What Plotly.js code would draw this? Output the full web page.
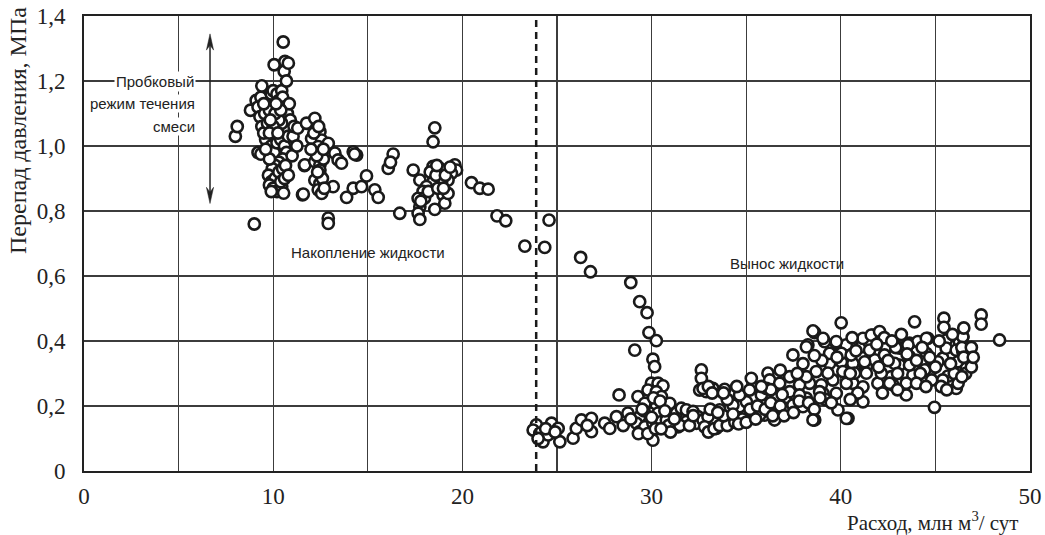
<!DOCTYPE html>
<html>
<head>
<meta charset="utf-8">
<script src="https://cdn.plot.ly/plotly-3.0.1.min.js"></script>
<style>html,body{margin:0;padding:0;background:#fff;}</style>
</head>
<body>
<div id="chart" style="width:1045px;height:535px;"></div>
<script>
// Slug-flow / liquid accumulation region (flow rate, mln m3/day ; pressure drop, MPa)
const accumQ = [8.0,8.1,9.0,8.8,9.1,9.2,9.35,9.4,9.3,9.4,9.55,9.2,9.35,9.6,9.5,9.7,9.65,9.8,9.9,10.0,10.05,10.2,10.3,10.45,10.53,10.62,10.58,10.8,10.7,10.5,10.6,10.75,10.85,10.9,10.6,10.45,10.3,10.1,10.0,9.8,9.9,10.05,10.2,10.4,10.6,10.8,11.05,10.7,10.5,10.3,10.1,9.95,9.8,9.75,9.9,10.1,10.3,10.5,10.65,9.8,10.0,10.2,10.45,10.55,9.9,10.4,10.6,10.8,11.0,11.25,11.55,11.65,11.1,9.6,10.25,10.4,10.15,9.85,11.3,9.5,
  11.76,12.20,12.47,12.03,12.56,12.91,12.38,12.56,13.26,13.43,13.61,14.23,14.41,11.67,12.20,12.47,12.47,12.47,12.20,12.47,12.38,12.56,13.17,11.59,13.88,14.23,14.67,14.93,15.37,15.55,12.91,12.91,12.65,12.3,12.6,12.35,12.7,12.15,12.4,14.3,16.34,16.08,16.2,16.69,12.0,12.65,
  18.54,18.45,17.40,17.75,18.45,18.81,19.60,19.69,19.42,19.24,18.90,18.45,18.10,17.92,17.66,17.75,17.66,17.75,18.98,19.07,18.54,19.24,18.3,18.6,19.1,19.35,18.0,18.2,18.7,17.8,19.0,18.65,
  20.48,20.92,21.36,21.83,22.29,23.30,24.35,24.58];
const accumDp = [1.03,1.06,0.76,1.11,1.14,1.12,1.15,1.185,1.09,1.06,1.10,0.98,0.975,1.02,1.04,1.07,1.13,1.11,1.16,1.17,1.25,1.16,1.14,1.17,1.32,1.26,1.23,1.255,1.20,1.15,1.12,1.10,1.13,1.08,1.05,1.07,1.08,1.10,1.06,1.04,1.00,0.98,1.01,1.02,1.00,1.03,1.03,0.98,0.96,0.95,0.94,0.93,0.96,0.91,0.89,0.90,0.92,0.93,0.94,0.88,0.87,0.86,0.875,0.855,0.86,0.89,0.90,0.91,0.97,1.00,0.85,0.94,1.06,0.99,1.04,1.11,1.13,1.08,1.055,1.13,
  1.07,1.085,1.044,1.023,1.018,1.008,0.998,0.982,0.978,0.957,0.947,0.982,0.972,0.942,0.952,0.942,0.926,0.911,0.895,0.885,0.865,0.854,0.875,0.852,0.842,0.870,0.875,0.908,0.865,0.842,0.778,0.762,0.96,0.97,0.90,0.92,0.87,1.04,1.06,0.975,0.975,0.931,0.95,0.793,0.99,0.99,
  1.056,1.013,0.926,0.895,0.937,0.931,0.942,0.926,0.916,0.895,0.890,0.890,0.875,0.860,0.839,0.813,0.793,0.774,0.849,0.824,0.805,0.854,0.92,0.91,0.91,0.935,0.84,0.86,0.87,0.83,0.87,0.94,
  0.887,0.870,0.867,0.785,0.770,0.692,0.688,0.772];

// Transition points
const transQ  = [26.25,26.77,28.90,29.37,29.76,29.86,30.25,29.11,30.07,30.16,28.28];
const transDp = [0.657,0.613,0.580,0.521,0.487,0.426,0.401,0.372,0.344,0.321,0.234];

// Liquid removal region
const removalQ = [23.91,23.74,24.09,24.26,24.71,25.06,24.53,25.15,25.85,26.02,26.29,26.82,26.82,26.60,24.40,24.00,24.90,27.52,27.79,28.14,28.75,29.28,28.50,
  29.99,30.34,30.60,29.81,30.25,30.52,30.96,29.64,30.25,29.90,30.34,29.37,29.20,29.37,29.64,30.07,30.52,30.78,31.31,31.57,31.84,32.19,32.45,31.40,31.84,32.37,32.72,30.07,32.63,32.63,32.54,32.89,29.30,29.80,28.90,29.60,30.10,30.45,30.70,30.00,29.50,30.20,30.90,
  32.72,33.24,33.86,35.27,36.15,36.24,36.77,37.30,37.47,38.26,38.62,39.14,39.76,40.29,39.41,40.03,40.64,41.26,41.35,38.35,37.82,38.97,39.58,40.64,41.17,39.06,39.76,41.17,38.62,39.85,40.38,38.00,37.12,36.50,35.97,35.36,34.65,34.13,33.60,32.98,32.80,33.42,34.13,34.83,35.71,36.50,37.03,37.47,38.18,36.59,35.80,35.01,34.30,34.65,35.18,36.07,37.30,37.82,38.88,39.32,40.11,40.73,38.70,38.18,40.29,39.41,40.03,40.55,
  33.00,33.30,33.60,34.00,34.40,34.80,33.80,34.30,31.00,31.50,30.50,32.00,32.20,31.20,33.10,33.50,34.60,35.00,35.50,35.20,35.60,36.00,36.30,36.80,36.40,37.00,37.50,37.80,38.30,38.60,39.20,39.50,38.90,33.00,33.20,
  43.90,45.45,45.45,47.42,47.42,48.39,41.70,42.05,43.63,44.07,44.60,45.57,46.27,46.45,42.31,43.11,42.67,43.81,44.78,45.66,46.19,46.63,46.10,43.46,44.95,41.35,41.96,42.75,43.46,41.79,42.40,43.11,44.52,45.39,45.13,45.57,46.10,46.45,41.35,41.08,41.52,43.63,44.25,44.43,45.39,
  38.18,39.06,39.76,41.17,41.61,42.05,41.52,42.31,42.84,43.55,44.52,46.45,41.26,42.58,42.14,43.63,40.02,38.53,38.53,40.29,
  46.60,46.90,46.40,46.50,46.00,45.80,45.00,44.70,44.00,43.50,44.80,45.30,46.20,42.00,42.50,43.00,44.20,44.00,42.90,42.30,40.80,40.50,39.80,39.00,38.60,38.00,37.70,36.80,36.30,35.80,34.50,34.00,33.80,36.90,40.90,40.50,42.20,43.00,44.50,45.60,46.40,46.90,47.00,45.20,45.90,46.50,44.30,41.90,42.70,43.20,40.60];
const removalDp = [0.142,0.126,0.116,0.090,0.147,0.131,0.111,0.090,0.101,0.131,0.157,0.162,0.121,0.140,0.130,0.100,0.120,0.147,0.131,0.167,0.178,0.229,0.140,
  0.270,0.270,0.262,0.249,0.244,0.229,0.208,0.208,0.198,0.178,0.178,0.167,0.147,0.121,0.136,0.147,0.152,0.157,0.178,0.193,0.188,0.183,0.167,0.136,0.152,0.147,0.157,0.095,0.311,0.285,0.249,0.244,0.115,0.115,0.160,0.185,0.225,0.215,0.185,0.165,0.190,0.130,0.140,
  0.254,0.254,0.251,0.285,0.301,0.280,0.270,0.290,0.357,0.388,0.426,0.398,0.393,0.388,0.331,0.336,0.331,0.326,0.393,0.270,0.265,0.265,0.280,0.270,0.259,0.239,0.239,0.213,0.157,0.188,0.162,0.198,0.213,0.188,0.172,0.178,0.198,0.193,0.188,0.167,0.136,0.131,0.147,0.157,0.172,0.157,0.193,0.203,0.224,0.229,0.234,0.213,0.203,0.234,0.249,0.254,0.244,0.234,0.244,0.301,0.306,0.301,0.306,0.290,0.270,0.362,0.362,0.357,
  0.120,0.130,0.140,0.140,0.150,0.160,0.170,0.175,0.120,0.140,0.130,0.140,0.170,0.160,0.190,0.180,0.145,0.150,0.160,0.190,0.200,0.190,0.210,0.200,0.170,0.170,0.180,0.215,0.210,0.190,0.220,0.210,0.225,0.260,0.240,
  0.459,0.470,0.442,0.480,0.452,0.403,0.418,0.426,0.393,0.398,0.408,0.403,0.398,0.413,0.357,0.326,0.290,0.295,0.311,0.292,0.336,0.316,0.254,0.234,0.196,0.321,0.270,0.265,0.270,0.342,0.382,0.378,0.362,0.347,0.336,0.378,0.372,0.367,0.301,0.382,0.393,0.352,0.336,0.311,0.280,
  0.382,0.408,0.398,0.408,0.418,0.429,0.372,0.357,0.331,0.388,0.408,0.413,0.336,0.270,0.301,0.326,0.456,0.431,0.157,0.162,
  0.300,0.320,0.380,0.350,0.300,0.330,0.320,0.350,0.340,0.360,0.280,0.260,0.270,0.320,0.340,0.300,0.300,0.270,0.380,0.410,0.370,0.300,0.350,0.340,0.355,0.330,0.300,0.310,0.250,0.260,0.260,0.220,0.240,0.235,0.240,0.220,0.240,0.250,0.260,0.250,0.290,0.380,0.350,0.400,0.420,0.440,0.380,0.390,0.400,0.420,0.410];

const xTickVals = [0,10,20,30,40,50];
const xTickText = ['0','10','20','30','40','50'];
const yTickVals = [0,0.2,0.4,0.6,0.8,1.0,1.2,1.4];
const yTickText = ['0','0,2','0,4','0,6','0,8','1,0','1,2','1,4'];
const boundaryQ = 23.9;
// slug-flow range arrow (x position, top and bottom of the pressure range)
const arrowQ = 6.66, arrowTop = 1.345, arrowBottom = 0.823;

const markerStyle = {symbol:'circle', size:11.2, color:'#ffffff', line:{color:'#1a1a1a', width:2.6}};
const traces = [
  {x:removalQ, y:removalDp, type:'scatter', mode:'markers', marker:markerStyle, hoverinfo:'x+y', cliponaxis:false},
  {x:transQ, y:transDp, type:'scatter', mode:'markers', marker:markerStyle, hoverinfo:'x+y', cliponaxis:false},
  {x:accumQ, y:accumDp, type:'scatter', mode:'markers', marker:markerStyle, hoverinfo:'x+y', cliponaxis:false}
];

const hw = 0.19, hl = 0.05; // arrowhead half width (x units) and length (y units)
const arrowShapes = [
  {type:'line', xref:'x', yref:'y', x0:arrowQ, x1:arrowQ, y0:arrowBottom + hl*0.6, y1:arrowTop - hl*0.6, line:{color:'#222', width:1.5}},
  {type:'path', xref:'x', yref:'y', fillcolor:'#222', line:{color:'#222', width:0.5},
   path:`M ${arrowQ} ${arrowTop} L ${arrowQ-hw} ${arrowTop-hl} L ${arrowQ} ${arrowTop-hl*0.7} L ${arrowQ+hw} ${arrowTop-hl} Z`},
  {type:'path', xref:'x', yref:'y', fillcolor:'#222', line:{color:'#222', width:0.5},
   path:`M ${arrowQ} ${arrowBottom} L ${arrowQ-hw} ${arrowBottom+hl} L ${arrowQ} ${arrowBottom+hl*0.7} L ${arrowQ+hw} ${arrowBottom+hl} Z`}
];

const serif = 'Liberation Serif, Times New Roman, serif';
const sans = 'Liberation Sans, Arial, sans-serif';
const gridCol = '#3c3c3c';
const layout = {
  width:1045, height:535,
  margin:{l:84, r:15, t:16, b:64},
  paper_bgcolor:'#ffffff', plot_bgcolor:'#ffffff',
  showlegend:false,
  xaxis:{range:[0,50], tickvals:xTickVals, ticktext:xTickText, showgrid:true, gridcolor:gridCol, gridwidth:1.4,
    minor:{dtick:5, tick0:0, showgrid:true, gridcolor:gridCol, gridwidth:1.4, ticks:''},
    zeroline:false, showline:true, linecolor:'#222', linewidth:2, mirror:true,
    ticks:'outside', ticklen:3, tickcolor:'rgba(0,0,0,0)', tickfont:{family:serif, size:23, color:'#222'}},
  yaxis:{range:[0,1.4], tickvals:yTickVals, ticktext:yTickText, showgrid:true, gridcolor:gridCol, gridwidth:1.4,
    zeroline:false, showline:true, linecolor:'#222', linewidth:2, mirror:true,
    ticks:'outside', ticklen:12, tickcolor:'rgba(0,0,0,0)', tickfont:{family:serif, size:23, color:'#222'}},
  shapes:[
    {type:'line', xref:'x', yref:'paper', x0:boundaryQ, x1:boundaryQ, y0:0, y1:1, line:{color:'#1a1a1a', width:2.5, dash:'7px,5px'}}
  ].concat(arrowShapes),
  annotations:[
    {xref:'paper', yref:'paper', x:-0.07, y:0.749, text:'Перепад давления, МПа', textangle:-90, showarrow:false,
     xanchor:'center', yanchor:'middle', font:{family:serif, size:24, color:'#222'}},
    {xref:'paper', yref:'paper', x:0.99, y:-0.112, text:'Расход, млн м<sup>3</sup>/ сут', showarrow:false,
     xanchor:'right', yanchor:'middle', font:{family:serif, size:21, color:'#222'}},
    {xref:'x', yref:'y', x:5.9, y:1.2, text:'Пробковый', showarrow:false, xanchor:'right', yanchor:'middle',
     bgcolor:'#ffffff', borderpad:1, font:{family:sans, size:15, color:'#222'}},
    {xref:'x', yref:'y', x:5.9, y:1.131, text:'режим течения', showarrow:false, xanchor:'right', yanchor:'middle',
     bgcolor:'#ffffff', borderpad:0, font:{family:sans, size:15, color:'#222'}},
    {xref:'x', yref:'y', x:5.9, y:1.06, text:'смеси', showarrow:false, xanchor:'right', yanchor:'middle',
     bgcolor:'#ffffff', borderpad:0, font:{family:sans, size:15, color:'#222'}},
    {xref:'x', yref:'y', x:15.0, y:0.671, text:'Накопление жидкости', showarrow:false, xanchor:'center', yanchor:'middle',
     font:{family:sans, size:15, color:'#222'}},
    {xref:'x', yref:'y', x:37.14, y:0.637, text:'Вынос жидкости', showarrow:false, xanchor:'center', yanchor:'middle',
     font:{family:sans, size:15, color:'#222'}}
  ]
};
Plotly.newPlot('chart', traces, layout, {staticPlot:true, displayModeBar:false});
</script>
</body>
</html>
